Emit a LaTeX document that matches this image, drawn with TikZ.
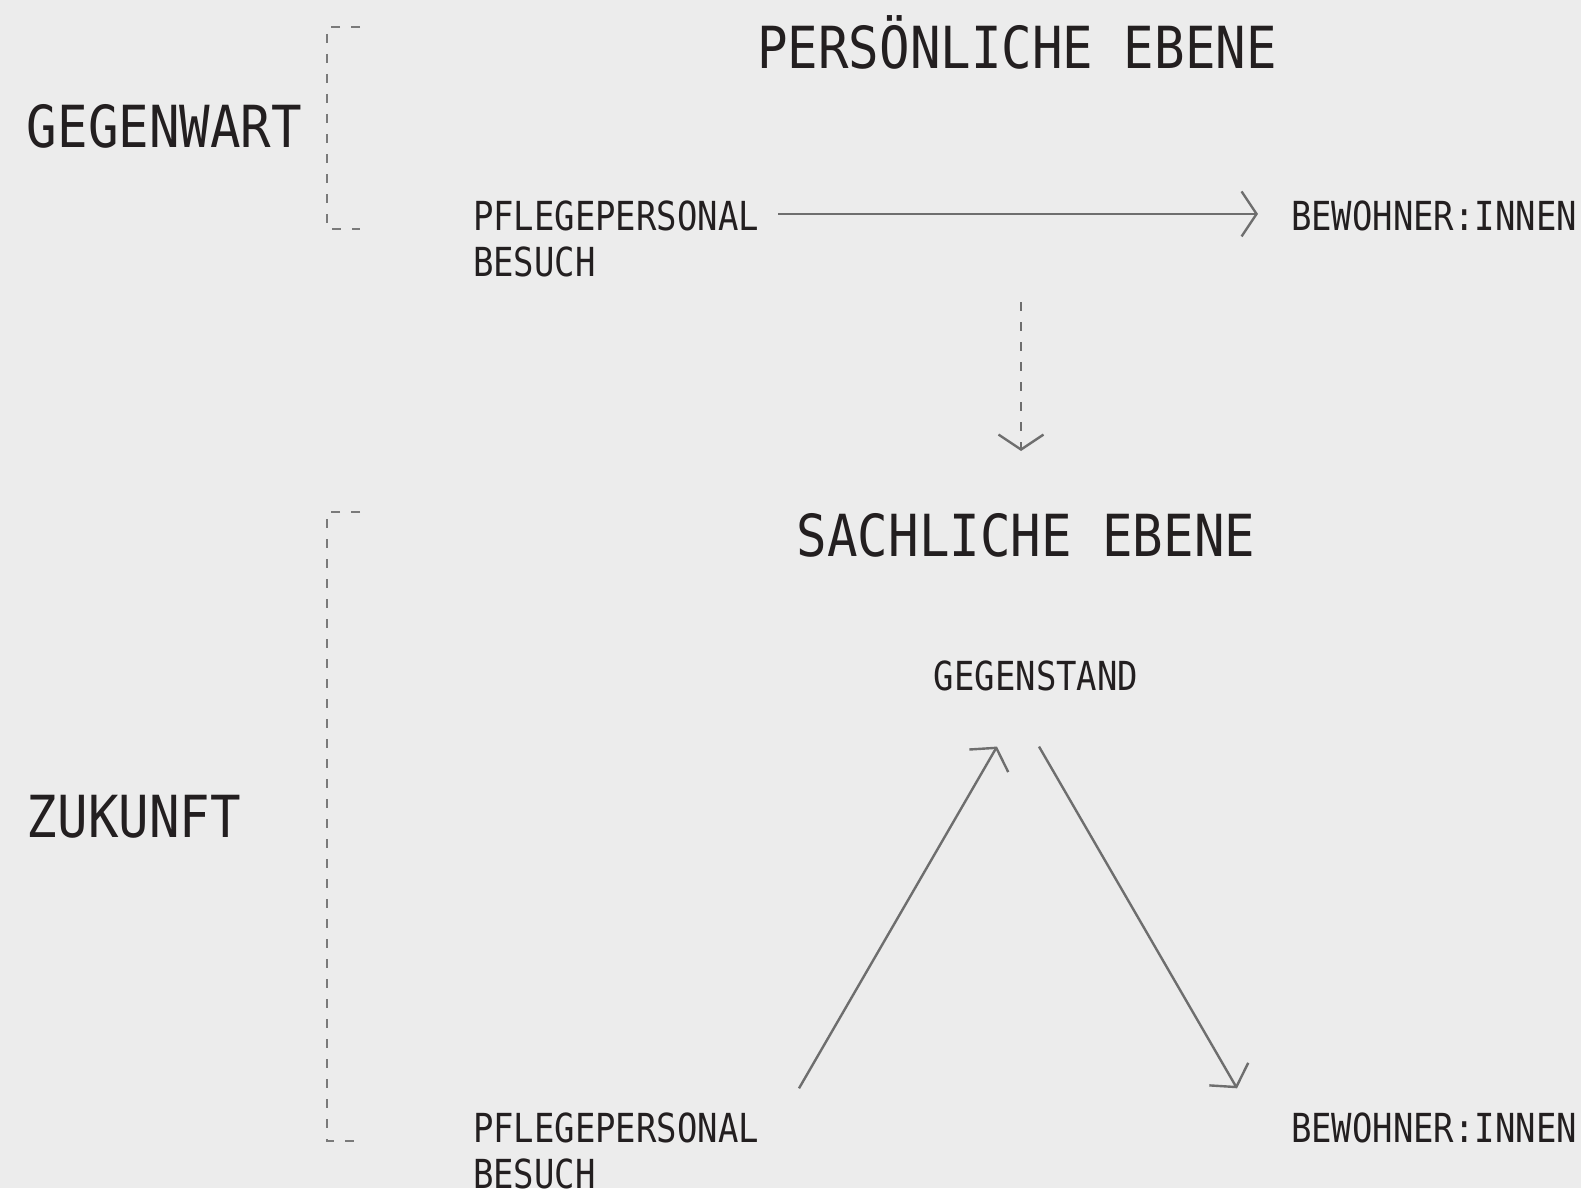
\documentclass[tikz,border=0pt]{standalone}
\usepackage{fontspec}
\usetikzlibrary{arrows.meta}
\newfontfamily\bigf[FakeStretch=0.875]{DejaVu Sans Mono}
\newfontfamily\smf[FakeStretch=0.848]{DejaVu Sans Mono}
\definecolor{bg}{HTML}{ECECEC}
\definecolor{ink}{HTML}{231F20}
\definecolor{ln}{HTML}{6E6E6E}
\definecolor{br}{HTML}{7A7A7A}
\tikzset{
  head/.style={inner sep=0pt, outer sep=0pt, text=ink, font=\bigf\fontsize{58}{60}\selectfont},
  lbl/.style={inner sep=0pt, outer sep=0pt, text=ink, font=\smf\fontsize{40}{47}\selectfont},
  arr/.style={draw=ln, line width=2.4pt, -{Straight Barb[length=15pt,width=45pt,line width=2.4pt]}},
  darr/.style={arr, dash pattern=on 9pt off 11pt},
  brk/.style={draw=br, line width=2.4pt, dash pattern=on 9pt off 11pt},
}
\begin{document}
\begin{tikzpicture}[x=1pt,y=-1pt]
\fill[bg] (0,0) rectangle (1581,1188);
\useasboundingbox (0,0) rectangle (1581,1188);

% headings
\node[head, anchor=base] (pers) at (1017,69) {PERSÖNLICHE EBENE};
\node[head, anchor=base] (sach) at (1026,556) {SACHLICHE EBENE};
\node[head, anchor=base west] (gegenw) at (27,147) {GEGENWART};
\node[head, anchor=base west] (zuk) at (27,837) {ZUKUNFT};

% brackets
\draw[brk] (360,27) -- (327,27) -- (327,229) -- (360,229);
\draw[brk] (360,512) -- (327,512) -- (327,1141) -- (360,1141);

% upper level
\node[lbl, anchor=base west] (p1) at (473,230) {PFLEGEPERSONAL};
\node[lbl, anchor=base west] (s1) at (473,276) {BESUCH};
\node[lbl, anchor=base west] (b1) at (1291,230) {BEWOHNER:INNEN};
\draw[arr] ([shift={(305pt,1.5pt)}]p1.west) -- ([shift={(-33pt,1.5pt)}]b1.west);

% transition
\coordinate (vtop) at (1021,302);
\coordinate (vbot) at (1021,451);
\draw[darr] (vtop) -- (vbot);

% lower level
\node[lbl, anchor=base] (geg) at (1036,690) {GEGENSTAND};
\node[lbl, anchor=base west] (p2) at (473,1142) {PFLEGEPERSONAL};
\node[lbl, anchor=base west] (s2) at (473,1188) {BESUCH};
\node[lbl, anchor=base west] (b2) at (1291,1142) {BEWOHNER:INNEN};
\draw[arr] ([shift={(326pt,24pt)}]p2.north west) -- ([shift={(-39pt,-56pt)}]geg.south);
\draw[arr] ([shift={(3pt,-56pt)}]geg.south) -- ([shift={(-54pt,24pt)}]b2.north west);
\end{tikzpicture}
\end{document}
